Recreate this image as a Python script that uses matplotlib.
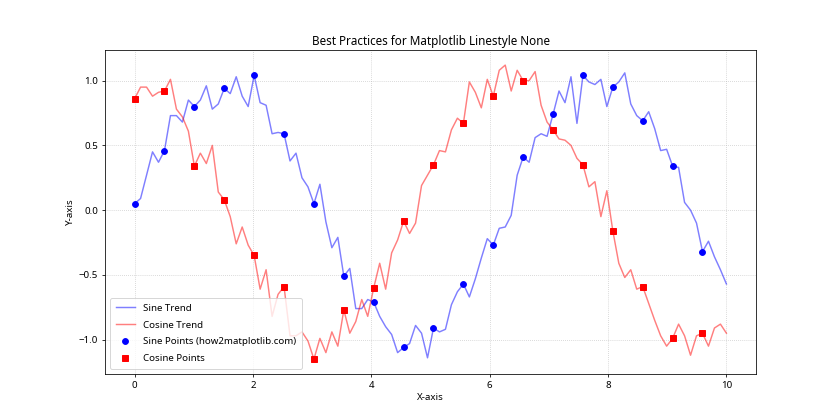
import numpy as np
import matplotlib
matplotlib.use("Agg")
import matplotlib.pyplot as plt

# Values (100 samples from 0 to 10)
x = np.linspace(0, 10, 100)

sine_trend = [
    0.05, 0.09, 0.27, 0.45, 0.37, 0.46, 0.73, 0.73, 0.68, 0.85,
    0.80, 0.85, 0.96, 0.78, 0.82, 0.94, 0.90, 1.03, 0.88, 0.80,
    1.04, 0.83, 0.81, 0.59, 0.60, 0.59, 0.38, 0.44, 0.25, 0.18,
    0.05, 0.20, -0.09, -0.29, -0.21, -0.51, -0.45, -0.76, -0.76, -0.69,
    -0.71, -0.82, -0.90, -0.96, -1.10, -1.06, -1.03, -0.89, -0.95, -1.14,
    -0.91, -0.94, -0.92, -0.73, -0.63, -0.57, -0.67, -0.53, -0.37, -0.22,
    -0.27, -0.14, -0.13, -0.04, 0.27, 0.41, 0.37, 0.56, 0.59, 0.57,
    0.74, 0.92, 0.83, 1.03, 0.67, 1.04, 0.99, 0.97, 1.01, 0.80,
    0.95, 0.99, 1.06, 0.82, 0.73, 0.69, 0.76, 0.63, 0.46, 0.47,
    0.34, 0.33, 0.06, 0.00, -0.10, -0.32, -0.24, -0.36, -0.46, -0.57,
]

cosine_trend = [
    0.86, 0.95, 0.95, 0.88, 0.91, 0.92, 1.01, 0.78, 0.72, 0.61,
    0.34, 0.44, 0.36, 0.50, 0.14, 0.08, -0.05, -0.26, -0.13, -0.27,
    -0.35, -0.61, -0.46, -0.82, -0.65, -0.59, -0.97, -0.97, -0.94, -1.01,
    -1.15, -0.99, -1.10, -0.94, -1.05, -0.77, -0.95, -0.86, -0.69, -0.82,
    -0.60, -0.41, -0.61, -0.33, -0.23, -0.085, -0.18, -0.10, 0.19, 0.27,
    0.35, 0.46, 0.45, 0.62, 0.71, 0.67, 0.99, 0.91, 0.79, 1.01,
    0.88, 1.08, 1.12, 0.92, 1.08, 1.00, 1.00, 1.07, 0.81, 0.68,
    0.62, 0.55, 0.54, 0.50, 0.40, 0.35, 0.18, 0.22, -0.05, 0.15,
    -0.16, -0.41, -0.52, -0.46, -0.61, -0.59, -0.72, -0.85, -0.97, -1.05,
    -0.99, -0.88, -0.97, -1.12, -0.97, -0.95, -1.05, -0.91, -0.88, -0.95,
]

# every 5th sample is shown as a marker
step = 5


def main():
    plt.rcParams['font.family'] = ['Noto Sans', 'DejaVu Sans']
    sine = np.array(sine_trend)
    cosine = np.array(cosine_trend)

    plt.figure(figsize=(12, 6), dpi=70)
    plt.plot(x, sine, color='blue', alpha=0.5, label='Sine Trend')
    plt.plot(x, cosine, color='red', alpha=0.5, label='Cosine Trend')
    plt.plot(x[::step], sine[::step], linestyle='None', marker='o',
             color='blue', label='Sine Points (how2matplotlib.com)')
    plt.plot(x[::step], cosine[::step], linestyle='None', marker='s',
             color='red', label='Cosine Points')

    plt.title('Best Practices for Matplotlib Linestyle None')
    plt.xlabel('X-axis')
    plt.ylabel('Y-axis')
    # Segoe-style line height in the original, so a bit more room per row
    plt.legend(loc='lower left', labelspacing=0.8, borderpad=0.6)
    plt.grid(True, linestyle=':', alpha=0.7)

    plt.savefig('out.png')


if __name__ == "__main__":
    main()
